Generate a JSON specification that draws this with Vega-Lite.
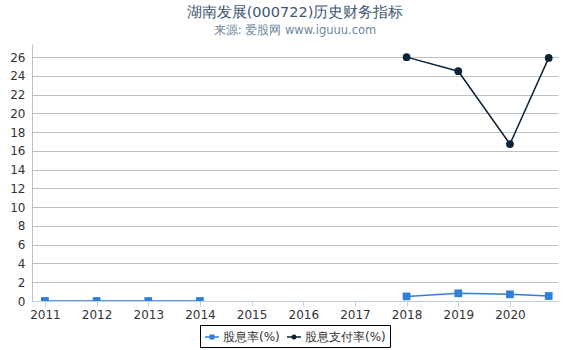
{
  "$schema": "https://vega.github.io/schema/vega-lite/v6.json",
  "width": 570,
  "height": 350,
  "autosize": {"type": "fit", "contains": "padding"},
  "padding": {"left": 9, "right": 12, "top": 5, "bottom": 2},
  "background": "white",
  "title": {
    "text": "湖南发展(000722)历史财务指标",
    "subtitle": "来源: 爱股网 www.iguuu.com",
    "fontSize": 14.5,
    "font": "DejaVu Sans",
    "fontWeight": "normal",
    "color": "#3E576F",
    "subtitleColor": "#6D869F",
    "subtitleFontSize": 11.5,
    "subtitleFont": "DejaVu Sans",
    "anchor": "middle",
    "offset": 7,
    "subtitlePadding": 4
  },
  "config": {
    "font": "DejaVu Sans",
    "view": {"stroke": null},
    "axis": {
      "labelFont": "DejaVu Sans",
      "labelFontSize": 12,
      "labelColor": "#333333",
      "title": null
    },
    "legend": {
      "orient": "bottom",
      "direction": "horizontal",
      "layout": {"bottom": {"anchor": "middle"}},
      "strokeColor": "black",
      "strokeWidth": 1,
      "padding": 4,
      "labelFont": "DejaVu Sans",
      "labelFontSize": 12,
      "labelColor": "#333333",
      "symbolSize": 196,
      "symbolStrokeWidth": 1.5,
      "columnPadding": 4,
      "labelOffset": 3,
      "offset": 5,
      "title": null
    }
  },
  "data": {
    "values": [
      {"year": 2011, "series": "股息率(%)", "value": 0},
      {"year": 2012, "series": "股息率(%)", "value": 0},
      {"year": 2013, "series": "股息率(%)", "value": 0},
      {"year": 2014, "series": "股息率(%)", "value": 0},
      {"year": 2015, "series": "股息率(%)", "value": null},
      {"year": 2016, "series": "股息率(%)", "value": null},
      {"year": 2017, "series": "股息率(%)", "value": null},
      {"year": 2018, "series": "股息率(%)", "value": 0.49},
      {"year": 2019, "series": "股息率(%)", "value": 0.82},
      {"year": 2020, "series": "股息率(%)", "value": 0.71},
      {"year": 2020.75, "series": "股息率(%)", "value": 0.53},
      {"year": 2018, "series": "股息支付率(%)", "value": 26.0},
      {"year": 2019, "series": "股息支付率(%)", "value": 24.5},
      {"year": 2020, "series": "股息支付率(%)", "value": 16.73},
      {"year": 2020.75, "series": "股息支付率(%)", "value": 25.92}
    ]
  },
  "encoding": {
    "x": {
      "field": "year",
      "type": "quantitative",
      "scale": {"domain": [2010.75, 2020.93], "nice": false, "zero": false},
      "axis": {
        "values": [2011, 2012, 2013, 2014, 2015, 2016, 2017, 2018, 2019, 2020],
        "format": "d",
        "grid": false,
        "domainColor": "#C0D0E0",
        "tickColor": "#C0D0E0",
        "tickSize": 5,
        "labelPadding": 3
      }
    },
    "y": {
      "field": "value",
      "type": "quantitative",
      "scale": {"domain": [0, 27.4], "nice": false},
      "axis": {
        "values": [0, 2, 4, 6, 8, 10, 12, 14, 16, 18, 20, 22, 24, 26],
        "grid": true,
        "gridColor": "#C0C0C0",
        "domainColor": "#C0C0C0",
        "ticks": false,
        "labelPadding": 7
      }
    },
    "color": {
      "field": "series",
      "type": "nominal",
      "scale": {"domain": ["股息率(%)", "股息支付率(%)"], "range": ["#2f7ed8", "#0d233a"]}
    }
  },
  "layer": [
    {
      "transform": [{"filter": "false"}],
      "mark": {"type": "point", "filled": false, "strokeWidth": 1.5, "opacity": 1},
      "encoding": {
        "shape": {
          "field": "series",
          "type": "nominal",
          "scale": {
            "domain": ["股息率(%)", "股息支付率(%)"],
            "range": [
              "M-1,0H1M-0.25,-0.25H0.25V0.25H-0.25Z",
              "M-1,0H1M0.25,0A0.25,0.25,0,1,1,-0.25,0A0.25,0.25,0,1,1,0.25,0"
            ]
          }
        }
      }
    },
    {
      "mark": {"type": "line", "strokeWidth": 1.5, "clip": true, "invalid": "break-paths-show-domains"}
    },
    {
      "transform": [{"filter": "datum.series === '股息率(%)'"}],
      "mark": {"type": "point", "shape": "square", "filled": true, "opacity": 1, "size": 60, "clip": true}
    },
    {
      "transform": [{"filter": "datum.series === '股息支付率(%)'"}],
      "mark": {"type": "point", "shape": "circle", "filled": true, "opacity": 1, "size": 60, "clip": true}
    }
  ]
}
